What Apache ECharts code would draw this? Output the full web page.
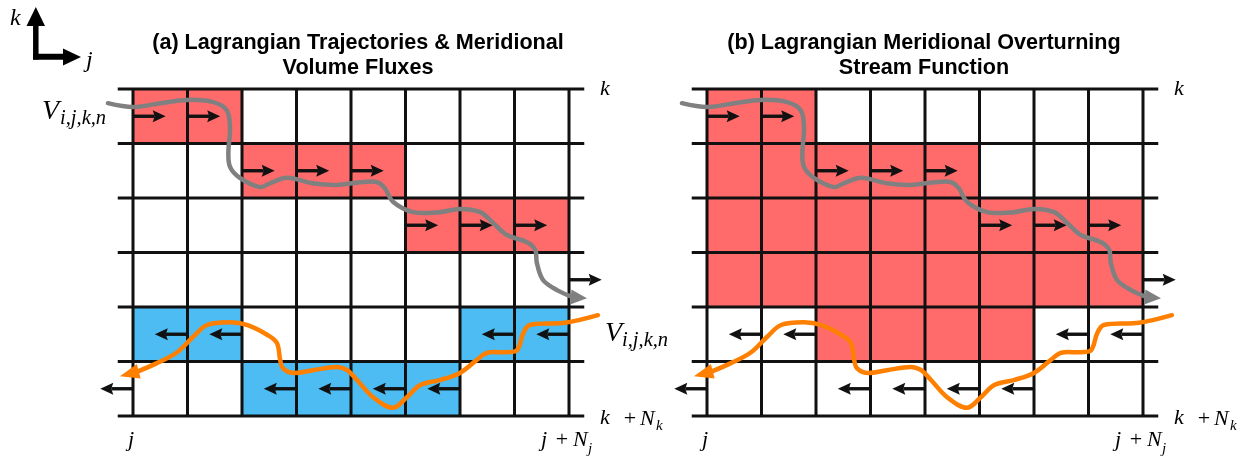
<!DOCTYPE html>
<html><head><meta charset="utf-8">
<script src="https://cdn.jsdelivr.net/npm/echarts@6/dist/echarts.min.js"></script>
<style>html,body{margin:0;padding:0;background:#fff}#c{width:1249px;height:462px}</style>
</head><body><div id="c"></div>
<script>
// ---- data (cell units: col along j, row along k downward) ----
const nCols = 8;
const nRows = 6;
const redCellsA = [[0,0],[1,0],[2,1],[3,1],[4,1],[5,2],[6,2],[7,2]];
const blueCellsA = [[0,4],[1,4],[6,4],[7,4],[2,5],[3,5],[4,5],[5,5]];
const redCellsB = [[0,0],[1,0],
  [0,1],[1,1],[2,1],[3,1],[4,1],
  [0,2],[1,2],[2,2],[3,2],[4,2],[5,2],[6,2],[7,2],
  [0,3],[1,3],[2,3],[3,3],[4,3],[5,3],[6,3],[7,3],
  [2,4],[3,4],[4,4],[5,4]];
// arrows [col,row]
const rightArrows = [[0,0],[1,0],[2,1],[3,1],[4,1],[5,2],[6,2],[7,2],[8,3]];
const leftArrows = [[0,4],[1,4],[6,4],[7,4],[2,5],[3,5],[4,5],[5,5],[-1,5]];
// trajectories [col,row]
const grayPath = [[-0.46,0.26],[0,0.33],[0.5,0.26],[0.99,0.2],[1.47,0.24],[1.72,0.39],[1.78,0.72],[1.75,1.16],[1.78,1.43],[1.96,1.63],[2.33,1.8],[2.51,1.73],[2.83,1.63],[3.3,1.73],[3.74,1.76],[4.17,1.71],[4.48,1.71],[4.62,1.82],[4.77,2.07],[5.14,2.26],[5.63,2.26],[6.0,2.2],[6.37,2.26],[6.61,2.46],[6.86,2.68],[7.23,2.81],[7.38,2.95],[7.41,3.19],[7.52,3.5],[7.78,3.69],[8.07,3.82],[8.33,3.84]];
const orangePath = [[8.53,4.15],[7.93,4.29],[7.28,4.33],[7.16,4.48],[7.05,4.79],[6.86,4.83],[6.5,4.84],[6.31,4.97],[6.0,5.21],[5.63,5.34],[5.27,5.43],[5.03,5.65],[4.77,5.85],[4.4,5.65],[4.11,5.34],[3.93,5.16],[3.74,5.1],[3.3,5.16],[2.94,5.21],[2.75,5.12],[2.7,4.97],[2.64,4.66],[2.46,4.51],[2.09,4.33],[1.78,4.28],[1.36,4.33],[1.1,4.55],[0.81,4.83],[0.44,5.03],[0.07,5.19],[-0.24,5.27]];
const titleA = ['(a) Lagrangian Trajectories & Meridional', 'Volume Fluxes'];
const titleB = ['(b) Lagrangian Meridional Overturning', 'Stream Function'];

const RED = '#FF6B6B', BLUE = '#4CBCF2', GRAY = '#808080', ORANGE = '#FF7F00', INK = '#111';
const EXT = 0.28;

const chart = echarts.init(document.getElementById('c'));

function gridLineData() {
  const d = [];
  for (let c = 0; c <= nCols; c++) d.push([0, c]);
  for (let r = 0; r <= nRows; r++) d.push([1, r]);
  return d;
}
function cellSeries(idx, cells, color) {
  return {
    type: 'custom', xAxisIndex: idx, yAxisIndex: idx, z: 1, silent: true,
    data: cells,
    renderItem: function (p, api) {
      const a = api.coord([api.value(0), api.value(1)]);
      const b = api.coord([api.value(0) + 1, api.value(1) + 1]);
      return { type: 'rect', shape: { x: a[0], y: a[1], width: b[0] - a[0], height: b[1] - a[1] }, style: { fill: color } };
    }
  };
}
function linesSeries(idx) {
  return {
    type: 'custom', xAxisIndex: idx, yAxisIndex: idx, z: 2, silent: true,
    data: gridLineData(),
    renderItem: function (p, api) {
      const kind = api.value(0), i = api.value(1);
      let a, b;
      if (kind === 0) { a = api.coord([i, 0]); b = api.coord([i, nRows]); }
      else { a = api.coord([-EXT, i]); b = api.coord([nCols + EXT, i]); }
      return { type: 'line', shape: { x1: a[0], y1: a[1], x2: b[0], y2: b[1] }, style: { stroke: INK, lineWidth: 3 } };
    }
  };
}
function arrowSeries(idx, list, dir) {
  return {
    type: 'custom', xAxisIndex: idx, yAxisIndex: idx, z: 3, silent: true,
    data: list,
    renderItem: function (p, api) {
      const c = api.value(0), r = api.value(1);
      const sx = dir > 0 ? c : c + 1;
      const s = api.coord([sx, r + 0.5]);
      const e = api.coord([sx + dir * 0.6, r + 0.5]);
      const hl = 13, hw = 6;
      const bx = e[0] - dir * hl;
      return { type: 'group', children: [
        { type: 'line', shape: { x1: s[0], y1: s[1], x2: bx + dir * 2, y2: e[1] }, style: { stroke: INK, lineWidth: 3.4 } },
        { type: 'polygon', shape: { points: [[e[0], e[1]], [bx, e[1] - hw], [bx + dir * 2, e[1]], [bx, e[1] + hw]] }, style: { fill: INK } }
      ]};
    }
  };
}
function curveSeries(idx, path, color) {
  const pts = path.slice(0, path.length - 1);
  return {
    type: 'custom', xAxisIndex: idx, yAxisIndex: idx, z: 4, silent: true,
    data: [0],
    renderItem: function (p, api) {
      const px = pts.map(function (q) { return api.coord(q); });
      return { type: 'polyline', shape: { points: px, smooth: 0.35 }, style: { stroke: color, lineWidth: 4.5, fill: null, lineCap: 'round', lineJoin: 'round' } };
    }
  };
}
function headSeries(idx, path, color) {
  const tip = path[path.length - 1], prev = path[path.length - 2];
  return {
    type: 'custom', xAxisIndex: idx, yAxisIndex: idx, z: 5, silent: true,
    data: [[tip[0], tip[1], prev[0], prev[1]]],
    renderItem: function (p, api) {
      const t = api.coord([api.value(0), api.value(1)]);
      const q = api.coord([api.value(2), api.value(3)]);
      const dx = t[0] - q[0], dy = t[1] - q[1];
      const L = Math.sqrt(dx * dx + dy * dy) || 1;
      const nx = -dy / L, ny = dx / L, hw = 7.5;
      const bx = q[0] - dx / L * 2, by = q[1] - dy / L * 2;
      return { type: 'polygon', shape: { points: [[t[0], t[1]], [bx + nx * hw, by + ny * hw], [bx - nx * hw, by - ny * hw]] }, style: { fill: color } };
    }
  };
}

const SERIF = '"Liberation Serif", "DejaVu Serif", serif';
function txt(x, y, text, size, opt) {
  opt = opt || {};
  return { type: 'text', x: x, y: y, z: 10, silent: true, style: {
    text: text, fill: '#000', align: opt.align || 'left', verticalAlign: 'middle',
    font: (opt.font || ('italic ' + size + 'px ' + SERIF))
  }};
}
const TFONT = 'bold 21.6px "Liberation Sans", Arial, sans-serif';
const graphics = [];
// axis icon
graphics.push({ type: 'line', shape: { x1: 35.8, y1: 22, x2: 35.8, y2: 59.5 }, style: { stroke: '#000', lineWidth: 5.5 }, z: 10 });
graphics.push({ type: 'line', shape: { x1: 33, y1: 56.8, x2: 66, y2: 56.8 }, style: { stroke: '#000', lineWidth: 6 }, z: 10 });
graphics.push({ type: 'polygon', shape: { points: [[35.8, 7], [26.5, 26], [45, 26]] }, style: { fill: '#000' }, z: 10 });
graphics.push({ type: 'polygon', shape: { points: [[81, 57], [63, 48.5], [63, 65.5]] }, style: { fill: '#000' }, z: 10 });
graphics.push(txt(10, 19, 'k', 24));
graphics.push(txt(86, 61, 'j', 24));
// titles
graphics.push(txt(358, 43, titleA[0], 21, { align: 'center', font: TFONT }));
graphics.push(txt(358, 68, titleA[1], 21, { align: 'center', font: TFONT }));
graphics.push(txt(924, 43, titleB[0], 21, { align: 'center', font: TFONT }));
graphics.push(txt(924, 68, titleB[1], 21, { align: 'center', font: TFONT }));
// V labels
graphics.push(txt(42, 112, 'V', 28));
graphics.push(txt(60, 119, 'i,j,k,n', 20.5));
graphics.push(txt(605, 334, 'V', 28));
graphics.push(txt(622, 341, 'i,j,k,n', 20.5));
// axis labels for both panels
[0, 574].forEach(function (o) {
  graphics.push(txt(605 + o, 89, 'k', 22, { align: 'center' }));
  graphics.push(txt(600 + o, 418, 'k', 22));
  graphics.push(txt(630 + o, 419, '+', 22, { align: 'center', font: '22px ' + SERIF }));
  graphics.push(txt(640 + o, 419, 'N', 22));
  graphics.push(txt(656 + o, 426, 'k', 15));
  graphics.push(txt(131 + o, 440, 'j', 22, { align: 'center' }));
  graphics.push(txt(541 + o, 440, 'j', 22));
  graphics.push(txt(562 + o, 440, '+', 22, { align: 'center', font: '22px ' + SERIF }));
  graphics.push(txt(573 + o, 440, 'N', 22));
  graphics.push(txt(588 + o, 449, 'j', 15));
});

const axX = { type: 'value', min: 0, max: nCols, show: false };
const axY = { type: 'value', min: 0, max: nRows, inverse: true, show: false };
chart.setOption({
  animation: false,
  backgroundColor: '#fff',
  grid: [
    { left: 133, top: 89, width: 436, height: 327, containLabel: false },
    { left: 707, top: 89, width: 436, height: 327, containLabel: false }
  ],
  xAxis: [Object.assign({ gridIndex: 0 }, axX), Object.assign({ gridIndex: 1 }, axX)],
  yAxis: [Object.assign({ gridIndex: 0 }, axY), Object.assign({ gridIndex: 1 }, axY)],
  graphic: graphics,
  series: [
    cellSeries(0, redCellsA, RED), cellSeries(0, blueCellsA, BLUE), linesSeries(0),
    arrowSeries(0, rightArrows, 1), arrowSeries(0, leftArrows, -1),
    curveSeries(0, grayPath, GRAY), headSeries(0, grayPath, GRAY),
    curveSeries(0, orangePath, ORANGE), headSeries(0, orangePath, ORANGE),
    cellSeries(1, redCellsB, RED), linesSeries(1),
    arrowSeries(1, rightArrows, 1), arrowSeries(1, leftArrows, -1),
    curveSeries(1, grayPath, GRAY), headSeries(1, grayPath, GRAY),
    curveSeries(1, orangePath, ORANGE), headSeries(1, orangePath, ORANGE)
  ]
});
</script></body></html>
